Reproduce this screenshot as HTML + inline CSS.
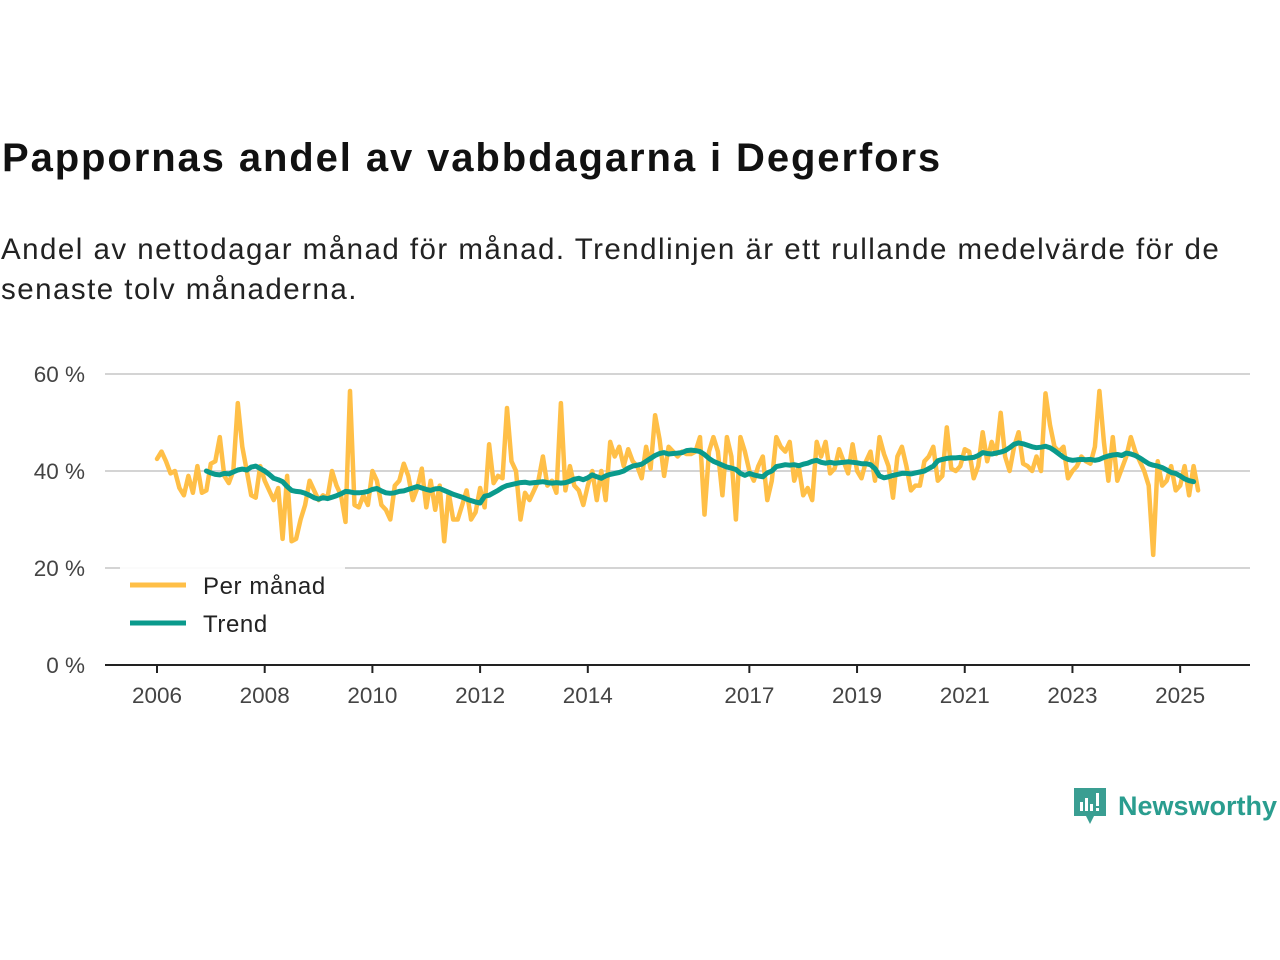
<!DOCTYPE html>
<html><head><meta charset="utf-8"><style>
body{margin:0;width:1280px;height:960px;background:#fff;font-family:"Liberation Sans",sans-serif;overflow:hidden;position:relative}
#title{position:absolute;left:2px;top:136px;font-size:40px;font-weight:bold;color:#111;letter-spacing:1.9px}
#sub{position:absolute;left:1px;top:230px;font-size:29.5px;line-height:40px;color:#222;width:1250px;letter-spacing:1.47px}
#logo{position:absolute;left:1072px;top:786px;display:flex;align-items:center;color:#2a9d8f;font-size:27px;font-weight:bold}
</style></head><body>
<div id="title">Pappornas andel av vabbdagarna i Degerfors</div>
<div id="sub">Andel av nettodagar månad för månad. Trendlinjen är ett rullande medelvärde för de senaste tolv månaderna.</div>
<svg id="chart" width="1280" height="960" style="position:absolute;left:0;top:0"></svg>
<div id="logo"><svg width="36" height="40" viewBox="0 0 36 40"><path d="M2 2h32v28H22l-4 8-4-8H2z" fill="#3a9e92"/><rect x="8" y="16" width="3" height="9" fill="#fff"/><rect x="13" y="12" width="3" height="13" fill="#fff"/><rect x="18" y="18" width="3" height="7" fill="#fff"/><rect x="24" y="7" width="3" height="13" fill="#fff"/><rect x="24" y="22" width="3" height="3" fill="#fff"/></svg><span style="margin-left:10px">Newsworthy</span></div>
<script>
const yTicks=[0,20,40,60];
const xTickYears=[2006,2008,2010,2012,2014,2017,2019,2021,2023,2025];
const monthly=[
42.5,44,42,39.5,40,36.5,35,39,35.5,41,35.5,36,
41.5,42,47,39,37.5,40,54,45,40,35,34.5,41,
38,36,34,36.5,26,39,25.5,26,30,33,38,36,
34,35,34.5,40,37,35,29.5,56.5,33,32.5,35,33,
40,38,33,32,30,37,38,41.5,39,34,36.5,40.5,
32.5,38,32,37,25.5,35.5,30,30,33,36,30,31.5,
36.5,32.5,45.5,37.5,39,38.5,53,42,40,30,35.5,34,
36,38,43,37,38,35.5,54,36,41,37,36,33,
37,40,34,40,34,46,43,45,41,44.5,42,41,
38.5,45,40.5,51.5,46.5,39,45,44,43,44,43.5,43.5,
44,47,31,44,47,44,35,47,43,30,47,44,
40,38,41,43,34,38,47,45,44,46,38,41,
35,36.5,34,46,43,46,39.5,40.5,44.5,42,39.5,45.5,
40,38.5,42,44,38,47,43.5,41,34.5,43,45,41,
36,37,37,42,43,45,38,39,49,40.5,40,41,
44.5,44,38.5,41,48,42,46,43.5,52,43,40,45,
48,41.5,41,40,43,40,56,49.5,45,44,45,38.5,
40,41,43,42,41.5,45,56.5,46,38,47,38,40.5,
43,47,44,42,40,37,22.7,42,37,38,41,36,
37,41,35,41,36];
const trend=[40,
39.6,39.3,39.2,39.5,39.4,39.8,40.2,40.4,40.2,40.8,41,40.5,
40,39.3,38.5,38.2,37.8,36.8,36,35.8,35.7,35.4,35,34.5,
34.2,34.5,34.3,34.6,34.9,35.3,35.8,35.7,35.5,35.5,35.6,35.8,
36.2,36.4,35.9,35.5,35.4,35.5,35.8,35.9,36.2,36.5,36.8,36.5,
36.2,36,36.3,36.4,36,35.6,35.2,34.9,34.6,34.2,33.9,33.6,
33.4,34.8,35,35.5,36,36.6,37,37.2,37.4,37.6,37.7,37.5,
37.6,37.7,37.8,37.6,37.5,37.6,37.5,37.6,37.9,38.3,38.5,38.2,
38.6,39.2,38.8,38.5,39,39.3,39.5,39.7,40,40.6,41,41.2,
41.4,42,42.6,43.2,43.6,43.8,43.5,43.6,43.7,43.8,44.2,44.3,
44.2,44,43.4,42.6,42,41.6,41.2,40.8,40.6,40.3,39.5,39.1,
39.5,39.2,39,38.8,39.6,40,40.9,41.1,41.3,41.2,41.3,41.1,
41.4,41.6,42,42.2,41.8,41.6,41.8,41.6,41.7,41.8,41.9,41.8,
41.7,41.5,41.5,41.3,40.5,39,38.6,38.8,39.1,39.3,39.5,39.5,
39.4,39.6,39.8,40,40.5,41,42.1,42.4,42.6,42.7,42.7,42.8,
42.6,42.7,42.8,43.2,43.8,43.6,43.5,43.7,43.9,44.2,44.8,45.5,
45.8,45.6,45.3,45,44.8,44.9,45.1,44.8,44.2,43.5,42.8,42.4,
42.2,42.3,42.4,42.3,42.4,42.2,42.4,42.8,43.1,43.3,43.4,43.2,
43.7,43.5,43.2,42.7,42.1,41.5,41.2,41,40.7,40.2,39.7,39.5,
39,38.4,38,37.8];
const startYear=2006;
const NS='http://www.w3.org/2000/svg';
const svg=document.getElementById('chart');
const X0=157,PXY=53.85,Y0=665,PXV=4.85;
function xs(yr){return X0+(yr-startYear)*PXY;}
function ys(v){return Y0-v*PXV;}
function mk(t,a){const e=document.createElementNS(NS,t);for(const k in a)e.setAttribute(k,a[k]);svg.appendChild(e);return e;}
yTicks.forEach(v=>{
  if(v>0){const g=mk('line',{x1:105,x2:1250,y1:ys(v),y2:ys(v),stroke:'#d4d4d4','stroke-width':2});
  
  }
  const t=mk('text',{x:85,y:ys(v)+8,'text-anchor':'end','font-size':22.5,fill:'#444','font-family':'Liberation Sans, sans-serif'});
  t.textContent=v+' %';
  
  
});
const base=mk('line',{x1:105,x2:1250,y1:Y0,y2:Y0,stroke:'#222','stroke-width':2});


xTickYears.forEach(yr=>{
  const x=xs(yr);
  const tk=mk('line',{x1:x,x2:x,y1:Y0,y2:Y0+8,stroke:'#222','stroke-width':2});
  
  
  const t=mk('text',{x:x,y:703,'text-anchor':'middle','font-size':22.5,fill:'#444','font-family':'Liberation Sans, sans-serif'});
  t.textContent=yr;
  
  
});
function path(arr,offset,color,w,name){
  const d=arr.map((v,i)=>(i?'L':'M')+xs(startYear+(i+offset)/12).toFixed(1)+' '+ys(v).toFixed(1)).join('');
  const p=mk('path',{d:d,fill:'none',stroke:color,'stroke-width':w,'stroke-linejoin':'round','stroke-linecap':'round'});
  
  
}
path(monthly,0,'#ffbf47',4.5,'monthly-line');
path(trend,11,'#0a9a8c',5,'trend-line');
const lb=mk('rect',{x:120,y:566,width:225,height:80,fill:'#fff',opacity:0.9});


[['Per månad','#ffbf47',585],['Trend','#0a9a8c',623]].forEach(([n,c,y])=>{
  const l=mk('line',{x1:130,x2:186,y1:y,y2:y,stroke:c,'stroke-width':5});
  
  
  const t=mk('text',{x:203,y:y+9,'font-size':24,fill:'#222','font-family':'Liberation Sans, sans-serif','letter-spacing':0.6});
  t.textContent=n;
  
  
});
</script>
</body></html>
